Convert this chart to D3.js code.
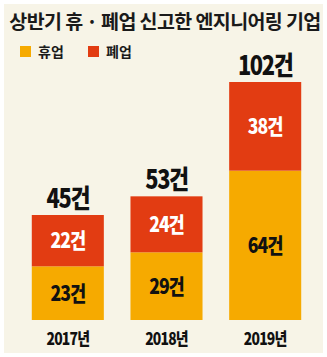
<!DOCTYPE html>
<html>
<head>
<meta charset="utf-8">
<script src="https://cdn.jsdelivr.net/npm/d3@7"></script>
<style>
  html, body { margin: 0; padding: 0; background: #ffffff; }
  svg { display: block; }
  text { font-family: "Noto Sans CJK KR", "Noto Sans", sans-serif; }
</style>
</head>
<body>
<svg id="chart" width="327" height="357"></svg>
<script>
// Half-year business suspension / closure filings by engineering firms
const years = ["2017년", "2018년", "2019년"];
const suspended = [23, 29, 64];   // 휴업
const closed = [22, 24, 38];      // 폐업
const totals = [45, 53, 102];
const seriesNames = ["휴업", "폐업"];
const colors = ["#f6aa00", "#e23c12"];

const svg = d3.select("#chart");
const W = 327, H = 357;

// panel background
svg.append("rect").attr("x", 4).attr("y", 4).attr("width", W - 8).attr("height", H - 8)
  .attr("fill", "#f7f4e7");

// title
svg.append("text")
  .attr("x", 165).attr("y", 29)
  .attr("text-anchor", "middle")
  .attr("font-size", 19.5).attr("font-weight", 700).attr("fill", "#1a1a1a")
  .attr("letter-spacing", -0.6)
  .text("상반기 휴 · 폐업 신고한 엔지니어링 기업");

// legend
const legend = svg.append("g");
const legendX = [20, 88];
seriesNames.forEach((name, i) => {
  legend.append("rect").attr("x", legendX[i]).attr("y", 46).attr("width", 11).attr("height", 11)
    .attr("fill", colors[i]);
  legend.append("text").attr("x", legendX[i] + 18).attr("y", 57)
    .attr("font-size", 14).attr("font-weight", 700).attr("fill", "#1a1a1a")
    .text(name);
});

// scales
const x = d3.scaleBand().domain(years).range([16, 317]).paddingInner(0.27).paddingOuter(0.16);
const y = d3.scaleLinear().domain([0, 102]).range([320, 82]);

const data = years.map((yr, i) => ({ year: yr, 휴업: suspended[i], 폐업: closed[i], total: totals[i] }));
const stack = d3.stack().keys(seriesNames)(data);

// condensed numeric labels
function condensed(sel, cx, cy, scaleX) {
  sel.attr("transform", `translate(${cx},${cy}) scale(${scaleX},1)`)
     .attr("text-anchor", "middle");
}

stack.forEach((layer, li) => {
  const g = svg.append("g");
  layer.forEach((d, i) => {
    const x0 = x(d.data.year), bw = x.bandwidth();
    g.append("rect")
      .attr("x", x0).attr("width", bw)
      .attr("y", y(d[1])).attr("height", y(d[0]) - y(d[1]))
      .attr("fill", colors[li]);
    const mid = (y(d[0]) + y(d[1])) / 2;
    const t = g.append("text")
      .attr("font-size", 21).attr("font-weight", 900)
      .attr("fill", li === 1 ? "#ffffff" : "#111111")
      .attr("letter-spacing", -1.2)
      .text((d[1] - d[0]) + "건");
    condensed(t, x0 + bw / 2, mid + 7.5, 0.84);
  });
});

// totals above bars
data.forEach(d => {
  const t = svg.append("text")
    .attr("font-size", 26).attr("font-weight", 900).attr("fill", "#111111")
    .attr("letter-spacing", -1.6)
    .text(d.total + "건");
  condensed(t, x(d.year) + x.bandwidth() / 2, y(d.total) - 7, 0.84);
});

// year axis labels
const axis = d3.axisBottom(x).tickSize(0).tickPadding(0);
const ax = svg.append("g").attr("transform", "translate(0,345)").call(axis);
ax.select(".domain").remove();
ax.selectAll(".tick text")
  .attr("font-size", 17).attr("font-weight", 900).attr("fill", "#111111")
  .attr("font-family", "'Noto Sans CJK KR', sans-serif")
  .attr("letter-spacing", -1)
  .attr("dy", 0).attr("y", 0)
  .attr("transform", "scale(0.82,1)");
</script>
</body>
</html>
